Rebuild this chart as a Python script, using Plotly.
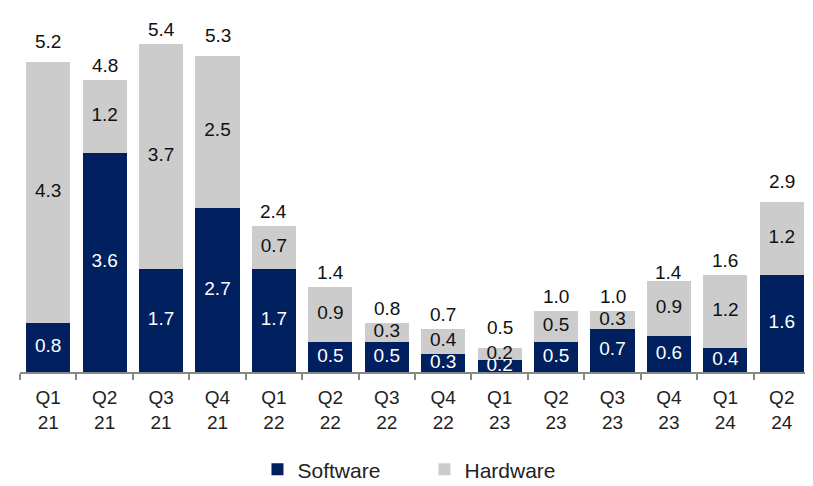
import plotly.graph_objects as go

quarters = ["Q1<br>21", "Q2<br>21", "Q3<br>21", "Q4<br>21", "Q1<br>22", "Q2<br>22", "Q3<br>22",
            "Q4<br>22", "Q1<br>23", "Q2<br>23", "Q3<br>23", "Q4<br>23", "Q1<br>24", "Q2<br>24"]
software = [0.8, 3.6, 1.7, 2.7, 1.7, 0.5, 0.5, 0.3, 0.2, 0.5, 0.7, 0.6, 0.4, 1.6]
hardware = [4.3, 1.2, 3.7, 2.5, 0.7, 0.9, 0.3, 0.4, 0.2, 0.5, 0.3, 0.9, 1.2, 1.2]
totals = [5.2, 4.8, 5.4, 5.3, 2.4, 1.4, 0.8, 0.7, 0.5, 1.0, 1.0, 1.4, 1.6, 2.9]

navy = '#002060'
grey = '#cccccc'
font_family = "Liberation Sans, Arial, sans-serif"

fig = go.Figure()
fig.add_trace(go.Bar(x=quarters, y=software, name='Software', marker=dict(color=navy, line=dict(width=0))))
fig.add_trace(go.Bar(x=quarters, y=hardware, name='Hardware', marker=dict(color=grey, line=dict(width=0))))

# segment labels at the middle of each piece
sw_mid = [s / 2 for s in software]
hw_mid = [s + h / 2 for s, h in zip(software, hardware)]
fig.add_trace(go.Scatter(x=quarters, y=sw_mid, mode='text', text=[f"{v:.1f}" for v in software],
                         textfont=dict(color='white', size=19, family=font_family),
                         showlegend=False, hoverinfo='skip', cliponaxis=False))
fig.add_trace(go.Scatter(x=quarters, y=hw_mid, mode='text', text=[f"{v:.1f}" for v in hardware],
                         textfont=dict(color='#111111', size=19, family=font_family),
                         showlegend=False, hoverinfo='skip', cliponaxis=False))

# totals above the stacks
for q, t in zip(quarters, totals):
    fig.add_annotation(x=q, y=t, text=f"{t:.1f}", showarrow=False, yanchor='bottom', yshift=2,
                       font=dict(color='#111111', size=19, family=font_family))

fig.update_layout(
    width=813, height=486,
    barmode='stack', bargap=0.22,
    margin=dict(l=12, r=11, t=10, b=122, autoexpand=False),
    plot_bgcolor='white', paper_bgcolor='white',
    font=dict(family=font_family, color='#222222'),
    legend=dict(orientation='h', x=0.512, xanchor='center', yref='container', y=0.05, yanchor='middle',
                font=dict(size=21), traceorder='normal', itemwidth=30, entrywidth=122),
    showlegend=True,
)
fig.update_xaxes(showline=True, linecolor='#888888', linewidth=2, ticks='outside', tickson='boundaries',
                 ticklen=6, tickcolor='#888888', tickwidth=2, tickfont=dict(size=19, color='#222222'),
                 ticklabelstandoff=7, showgrid=False, automargin=False, range=[-0.5, 13.5])
fig.update_yaxes(visible=False, range=[0, 5.82], automargin=False)

fig.write_html("out.html")
